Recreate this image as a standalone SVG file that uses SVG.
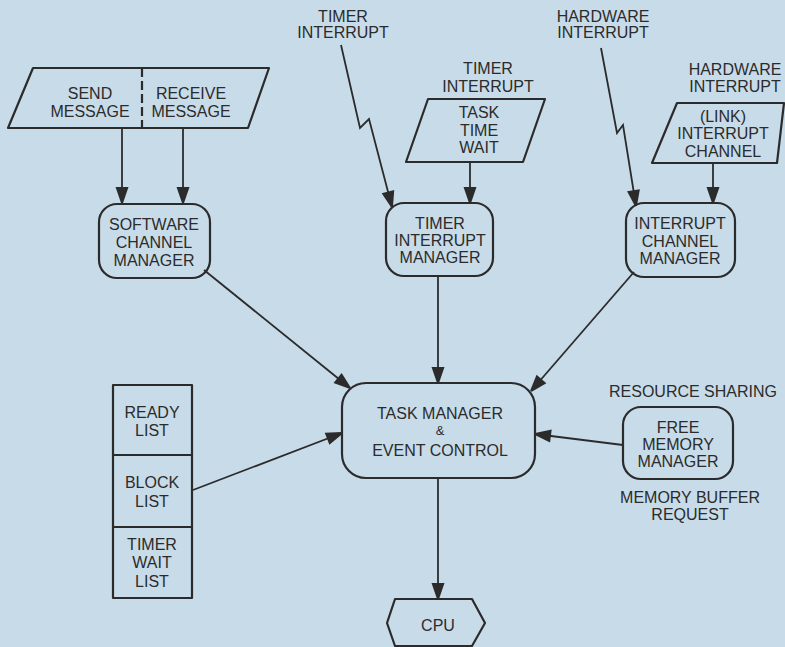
<svg xmlns="http://www.w3.org/2000/svg" width="785" height="647" viewBox="0 0 785 647">
<style>
.bg{fill:#c8dbe9}
.shape{fill:none;stroke:#2b2b2b;stroke-width:2.2;stroke-linejoin:round}
.line{fill:none;stroke:#2b2b2b;stroke-width:1.8}
text{font-family:"Liberation Sans",Arial,sans-serif;font-size:16px;fill:#2b2b2b;text-anchor:middle}
.amp{font-size:13px}
</style>
<defs>
<marker id="arr" markerUnits="userSpaceOnUse" markerWidth="20" markerHeight="16" viewBox="-1 -8 18 16" refX="16" refY="0" orient="auto">
<path d="M0,-6.5 L16,-1 L16,1 L0,6.5 Z" fill="#2b2b2b"/>
</marker>
</defs>
<rect class="bg" x="0" y="0" width="785" height="647"/>

<g id="connectors">
<line class="line" x1="122" y1="129" x2="122" y2="203" marker-end="url(#arr)"/>
<line class="line" x1="183" y1="129" x2="183" y2="203" marker-end="url(#arr)"/>
<polyline class="line" points="341,45 360,128 369,119 392,207" marker-end="url(#arr)"/>
<line class="line" x1="470" y1="162" x2="470" y2="203" marker-end="url(#arr)"/>
<polyline class="line" points="601,48 617,133 623,125 636,206" marker-end="url(#arr)"/>
<line class="line" x1="713" y1="163" x2="713" y2="203" marker-end="url(#arr)"/>
<line class="line" x1="204" y1="270" x2="350" y2="388" marker-end="url(#arr)"/>
<line class="line" x1="438" y1="276" x2="438" y2="383" marker-end="url(#arr)"/>
<line class="line" x1="634" y1="272" x2="531" y2="391" marker-end="url(#arr)"/>
<line class="line" x1="193" y1="490" x2="342" y2="433" marker-end="url(#arr)"/>
<line class="line" x1="623" y1="445" x2="535" y2="434" marker-end="url(#arr)"/>
<line class="line" x1="438" y1="478" x2="438" y2="599" marker-end="url(#arr)"/>
</g>

<g id="send-receive">
<polygon class="shape" points="33,68 269,68 248,128 8,128"/>
<line class="shape" x1="142" y1="68" x2="142" y2="128" stroke-dasharray="9,4"/>
<text x="90" y="99">SEND</text>
<text x="90" y="117">MESSAGE</text>
<text x="191" y="99">RECEIVE</text>
<text x="191" y="117">MESSAGE</text>
</g>

<g id="software-channel-manager">
<rect class="shape" x="99" y="204" width="111" height="74" rx="18"/>
<text x="154" y="230">SOFTWARE</text>
<text x="154" y="248">CHANNEL</text>
<text x="154" y="266">MANAGER</text>
</g>

<g id="timer-interrupt-label">
<text x="343" y="22">TIMER</text>
<text x="343" y="38">INTERRUPT</text>
</g>

<g id="task-time-wait">
<text x="488" y="74">TIMER</text>
<text x="488" y="92">INTERRUPT</text>
<polygon class="shape" points="428,99 545,99 523,162 406,162"/>
<text x="479" y="118">TASK</text>
<text x="479" y="136">TIME</text>
<text x="479" y="153">WAIT</text>
</g>

<g id="timer-interrupt-manager">
<rect class="shape" x="386" y="203" width="107" height="73" rx="18"/>
<text x="440" y="229">TIMER</text>
<text x="440" y="246">INTERRUPT</text>
<text x="440" y="263">MANAGER</text>
</g>

<g id="hardware-interrupt-label">
<text x="603" y="22">HARDWARE</text>
<text x="603" y="38">INTERRUPT</text>
</g>

<g id="link-interrupt-channel">
<text x="735" y="75">HARDWARE</text>
<text x="735" y="92">INTERRUPT</text>
<polygon class="shape" points="677,103 784,103 777,163 652,163"/>
<text x="723" y="122">(LINK)</text>
<text x="723" y="139">INTERRUPT</text>
<text x="723" y="157">CHANNEL</text>
</g>

<g id="interrupt-channel-manager">
<rect class="shape" x="626" y="203" width="109" height="74" rx="18"/>
<text x="680" y="229">INTERRUPT</text>
<text x="680" y="247">CHANNEL</text>
<text x="680" y="264">MANAGER</text>
</g>

<g id="task-manager">
<rect class="shape" x="342" y="383" width="193" height="95" rx="24"/>
<text x="440" y="419">TASK MANAGER</text>
<text class="amp" x="440" y="435">&amp;</text>
<text x="440" y="456">EVENT CONTROL</text>
</g>

<g id="lists">
<rect class="shape" x="113" y="385" width="79" height="213"/>
<line class="shape" x1="113" y1="455" x2="192" y2="455"/>
<line class="shape" x1="113" y1="527" x2="192" y2="527"/>
<text x="152" y="418">READY</text>
<text x="152" y="436">LIST</text>
<text x="152" y="488">BLOCK</text>
<text x="152" y="507">LIST</text>
<text x="152" y="550">TIMER</text>
<text x="152" y="568">WAIT</text>
<text x="152" y="587">LIST</text>
</g>

<g id="free-memory-manager">
<text x="693" y="397">RESOURCE SHARING</text>
<rect class="shape" x="623" y="407" width="110" height="72" rx="18"/>
<text x="678" y="433">FREE</text>
<text x="678" y="450">MEMORY</text>
<text x="678" y="467">MANAGER</text>
<text x="690" y="503">MEMORY BUFFER</text>
<text x="690" y="520">REQUEST</text>
</g>

<g id="cpu">
<polygon class="shape" points="395,599 472,599 485,623 472,646 395,646 387,623"/>
<text x="438" y="631">CPU</text>
</g>
</svg>
